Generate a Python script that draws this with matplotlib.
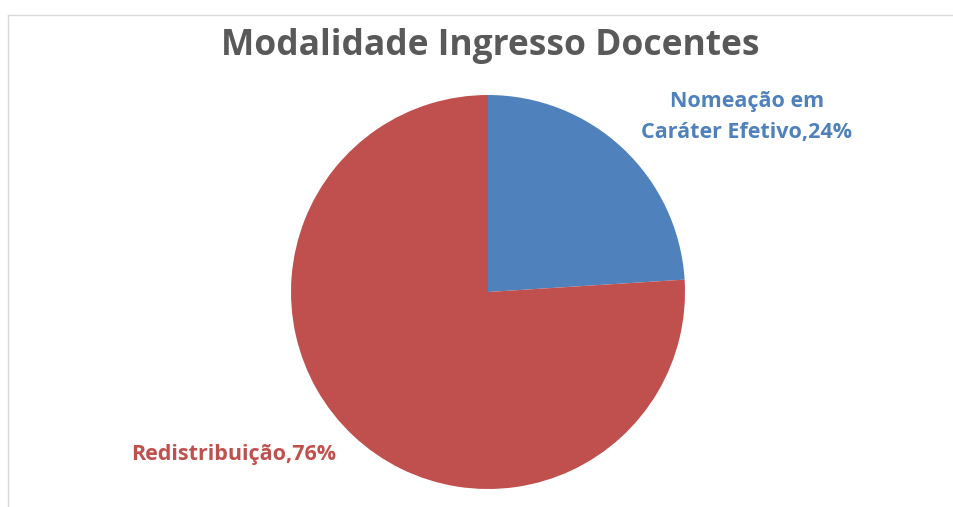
import matplotlib.pyplot as plt

# dados
categorias = ['Nomeação em\nCaráter Efetivo', 'Redistribuição']
percentuais = [24, 76]
cores = ['#4F81BD', '#C0504D']

plt.rcParams['font.family'] = ['Open Sans', 'DejaVu Sans']

W, H = 954, 507
fig = plt.figure(figsize=(W / 100, H / 100), dpi=100)
ax = fig.add_axes([0, 0, 1, 1])

# borda do quadro do gráfico
ax.plot([8, W], [H - 15, H - 15], color='#d9d9d9', lw=1)
ax.plot([8, 8], [0, H - 15], color='#d9d9d9', lw=1)

ax.pie(percentuais, colors=cores, startangle=90, counterclock=False,
       center=(488, H - 292), radius=197, frame=True,
       wedgeprops=dict(linewidth=0))
ax.set_xlim(0, W)
ax.set_ylim(0, H)
ax.set_aspect('equal')
ax.axis('off')

ax.text(490, H - 46, 'Modalidade Ingresso Docentes', ha='center', va='center',
        fontsize=25.5, fontweight='bold', color='#595959')

ax.text(747, H - 117, f'{categorias[0]},{percentuais[0]}%', ha='center', va='center',
        fontsize=15.5, fontweight='bold', color=cores[0], linespacing=1.6)
ax.text(234, H - 455, f'{categorias[1]},{percentuais[1]}%', ha='center', va='center',
        fontsize=15.5, fontweight='bold', color=cores[1])

fig.savefig('out.png', dpi=100, facecolor='white')
